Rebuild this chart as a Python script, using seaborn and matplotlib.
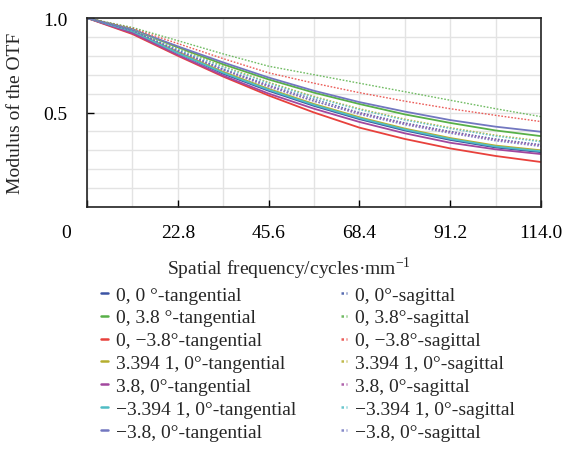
import numpy as np
import matplotlib
matplotlib.use("Agg")
import matplotlib.pyplot as plt
import matplotlib.transforms as mtransforms
from matplotlib.ticker import MultipleLocator
from matplotlib.lines import Line2D
import seaborn as sns

# =============================================
# DATA
# =============================================
freq = [0, 11.4, 22.8, 34.2, 45.6, 57.0, 68.4, 79.8, 91.2, 102.6, 114.0]

# tangential curves
tan_0_0 = [1.0, 0.925, 0.815, 0.705, 0.615, 0.535, 0.465, 0.405, 0.355, 0.315, 0.29]
tan_0_38 = [1.0, 0.94, 0.845, 0.755, 0.675, 0.605, 0.545, 0.49, 0.445, 0.405, 0.375]
tan_0_m38 = [1.0, 0.915, 0.80, 0.69, 0.59, 0.50, 0.42, 0.36, 0.31, 0.27, 0.238]
tan_3394_0 = [1.0, 0.93, 0.82, 0.715, 0.625, 0.545, 0.475, 0.415, 0.365, 0.325, 0.30]
tan_38_0 = [1.0, 0.92, 0.805, 0.695, 0.60, 0.52, 0.45, 0.39, 0.34, 0.305, 0.28]
tan_m3394_0 = [1.0, 0.93, 0.815, 0.71, 0.62, 0.54, 0.47, 0.41, 0.36, 0.32, 0.295]
tan_m38_0 = [1.0, 0.94, 0.85, 0.765, 0.685, 0.615, 0.555, 0.505, 0.46, 0.425, 0.398]

# sagittal curves
sag_0_0 = [1.0, 0.935, 0.83, 0.73, 0.645, 0.57, 0.50, 0.445, 0.40, 0.36, 0.33]
sag_0_38 = [1.0, 0.95, 0.88, 0.81, 0.745, 0.70, 0.655, 0.61, 0.565, 0.52, 0.478]
sag_0_m38 = [1.0, 0.945, 0.865, 0.785, 0.71, 0.655, 0.605, 0.56, 0.52, 0.485, 0.452]
sag_3394_0 = [1.0, 0.94, 0.84, 0.745, 0.66, 0.585, 0.52, 0.465, 0.42, 0.38, 0.35]
sag_38_0 = [1.0, 0.935, 0.825, 0.725, 0.64, 0.56, 0.495, 0.44, 0.395, 0.355, 0.325]
sag_m3394_0 = [1.0, 0.94, 0.835, 0.74, 0.655, 0.58, 0.515, 0.46, 0.415, 0.375, 0.345]
sag_m38_0 = [1.0, 0.935, 0.825, 0.725, 0.635, 0.56, 0.49, 0.435, 0.39, 0.35, 0.32]

tan_labels = ["0, 0 °-tangential", "0, 3.8 °-tangential", "0, \u22123.8°-tangential",
              "3.394 1, 0°-tangential", "3.8, 0°-tangential",
              "\u22123.394 1, 0°-tangential", "\u22123.8, 0°-tangential"]
sag_labels = ["0, 0°-sagittal", "0, 3.8°-sagittal", "0, \u22123.8°-sagittal",
              "3.394 1, 0°-sagittal", "3.8, 0°-sagittal",
              "\u22123.394 1, 0°-sagittal", "\u22123.8, 0°-sagittal"]
tan_series = [tan_0_0, tan_0_38, tan_0_m38, tan_3394_0, tan_38_0, tan_m3394_0, tan_m38_0]
sag_series = [sag_0_0, sag_0_38, sag_0_m38, sag_3394_0, sag_38_0, sag_m3394_0, sag_m38_0]

colors = ["#3c54a4", "#58b048", "#e8413c", "#b5ae2e", "#a2489e", "#4fbcc4", "#7277c0"]

xticks = [0, 22.8, 45.6, 68.4, 91.2, 114.0]
xticklabels = ["0", "22.8", "45.6", "68.4", "91.2", "114.0"]
yticks = [0.5, 1.0]
yticklabels = ["0.5", "1.0"]

# =============================================
# STYLE
# =============================================
sns.set_style("white")
plt.rcParams['font.family'] = ['Liberation Serif', 'DejaVu Serif']
plt.rcParams['mathtext.fontset'] = 'custom'
plt.rcParams['mathtext.rm'] = 'Liberation Serif'
plt.rcParams['font.size'] = 14

fig = plt.figure(figsize=(5.76, 4.52), dpi=100)
ax = fig.add_axes([87 / 576, 1 - 208 / 452, 454 / 576, 189 / 452])

handles = []
for vals, lab, c in zip(tan_series, tan_labels, colors):
    sns.lineplot(x=freq, y=vals, ax=ax, color=c, linewidth=1.3, linestyle='-')
    handles.append(Line2D([], [], color=c, linewidth=1.8, linestyle='-', label=lab))
for vals, lab, c in zip(sag_series, sag_labels, colors):
    sns.lineplot(x=freq, y=vals, ax=ax, color=c, linewidth=1.0, linestyle=(0, (1.2, 1.2)), alpha=0.85)
    handles.append(Line2D([], [], color=c, linewidth=1.8, linestyle=(0, (1, 1)), alpha=0.85, label=lab))

ax.set_xlim(0, 114)
ax.set_ylim(0, 1.0)
ax.set_xticks(xticks)
ax.set_xticklabels(xticklabels)
ax.set_yticks(yticks)
ax.set_yticklabels(yticklabels)
ax.xaxis.set_minor_locator(MultipleLocator(11.4))
ax.yaxis.set_minor_locator(MultipleLocator(0.1))
ax.grid(which='both', color='#e3e3e3', linewidth=1.0)
ax.set_axisbelow(True)
ax.tick_params(which='major', direction='in', length=5, width=1, colors='black',
               labelsize=14, bottom=True, left=True)
ax.tick_params(axis='x', which='major', pad=12)
ax.tick_params(axis='y', which='major', pad=14)
ax.tick_params(which='minor', length=0)
for s in ax.spines.values():
    s.set_color('#222222')
    s.set_linewidth(1.2)

# the origin label sits off to the left of the axis corner
shift = mtransforms.ScaledTranslation(-21 / 100, 0, fig.dpi_scale_trans)
first = ax.get_xticklabels()[0]
first.set_transform(first.get_transform() + shift)

ax.set_ylabel("Modulus of the OTF", fontsize=14, labelpad=4)
ax.yaxis.set_label_coords(-(87 - 24) / 454, 0.5)
ax.set_xlabel("Spatial frequency/cycles·mm$^{-1}$", fontsize=14)
ax.xaxis.set_label_coords((289 - 87) / 454, -(255 - 208) / 189)

fig.legend(handles=handles, ncol=2, loc='upper left',
           bbox_to_anchor=(101 / 576, 1 - 287 / 452), frameon=False,
           fontsize=14, handlelength=0.35, handletextpad=0.4,
           labelspacing=0.27, columnspacing=2.3, borderaxespad=0, borderpad=0)

fig.savefig("out.png", dpi=100)
